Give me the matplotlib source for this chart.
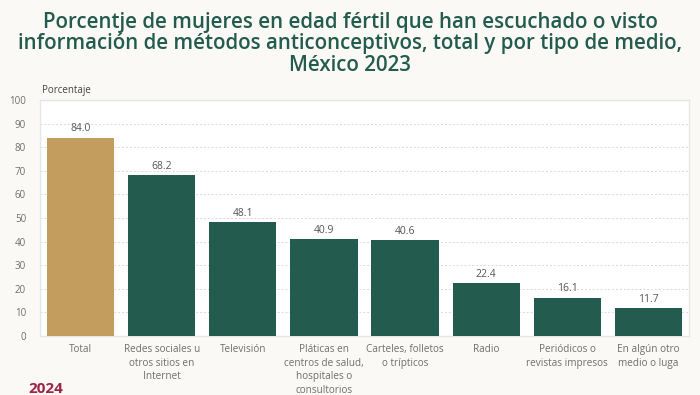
import matplotlib.pyplot as plt
import numpy as np

categories = ["Total", "Redes sociales u\notros sitios en\nInternet", "Televisión",
              "Pláticas en\ncentros de salud,\nhospitales o\nconsultorios",
              "Carteles, folletos\no trípticos", "Radio",
              "Periódicos o\nrevistas impresos", "En algún otro\nmedio o luga"]
values = [84.0, 68.2, 48.1, 40.9, 40.6, 22.4, 16.1, 11.7]
yticks = [0, 10, 20, 30, 40, 50, 60, 70, 80, 90, 100]

GREEN = "#235B4E"
GOLD = "#C29D5E"
GREY = "#6f6f6f"

plt.rcParams["font.family"] = ["Open Sans", "DejaVu Sans"]

fig = plt.figure(figsize=(7, 3.95), dpi=100, facecolor="#fbf9f5")
ax = fig.add_axes([40 / 700, 1 - 336 / 395, 649 / 700, 236 / 395])
ax.set_facecolor("white")

x = np.arange(len(values))
colors = [GOLD] + [GREEN] * (len(values) - 1)
bars = ax.bar(x, values, width=0.83, color=colors, zorder=3)
for xi, v in zip(x, values):
    ax.text(xi, v + 1.5, f"{v:.1f}", ha="center", va="bottom", fontsize=7.5, color="#555555")

ax.set_xlim(-0.5, len(values) - 0.5)
ax.set_ylim(0, 100)
ax.set_yticks(yticks)
ax.set_xticks(x)
ax.set_xticklabels(categories, fontsize=7.2, color=GREY, linespacing=1.3)
ax.tick_params(axis="y", labelsize=7, colors=GREY, length=0, pad=10)
ax.tick_params(axis="x", length=0, pad=6)
ax.grid(axis="y", linestyle=(0, (2, 2)), color="#d9d9d9", linewidth=0.7, zorder=0)
for s in ax.spines.values():
    s.set_color("#e6e6e6")
    s.set_linewidth(1)

fig.text(42 / 700, 1 - 90 / 395, "Porcentaje", fontsize=7, color="#444444", ha="left", va="center")

fig.text(0.5, 1 - 44 / 395,
         "Porcentje de mujeres en edad fértil que han escuchado o visto\n"
         "información de métodos anticonceptivos, total y por tipo de medio,\n"
         "México 2023",
         ha="center", va="center", fontsize=14.8, fontweight="semibold", color=GREEN,
         linespacing=1.05)

fig.text(28 / 700, 1 - 389 / 395, "2024", fontsize=11, fontweight="bold", color="#9D2449",
         ha="left", va="center")

fig.savefig("out.png", dpi=100, facecolor=fig.get_facecolor())
